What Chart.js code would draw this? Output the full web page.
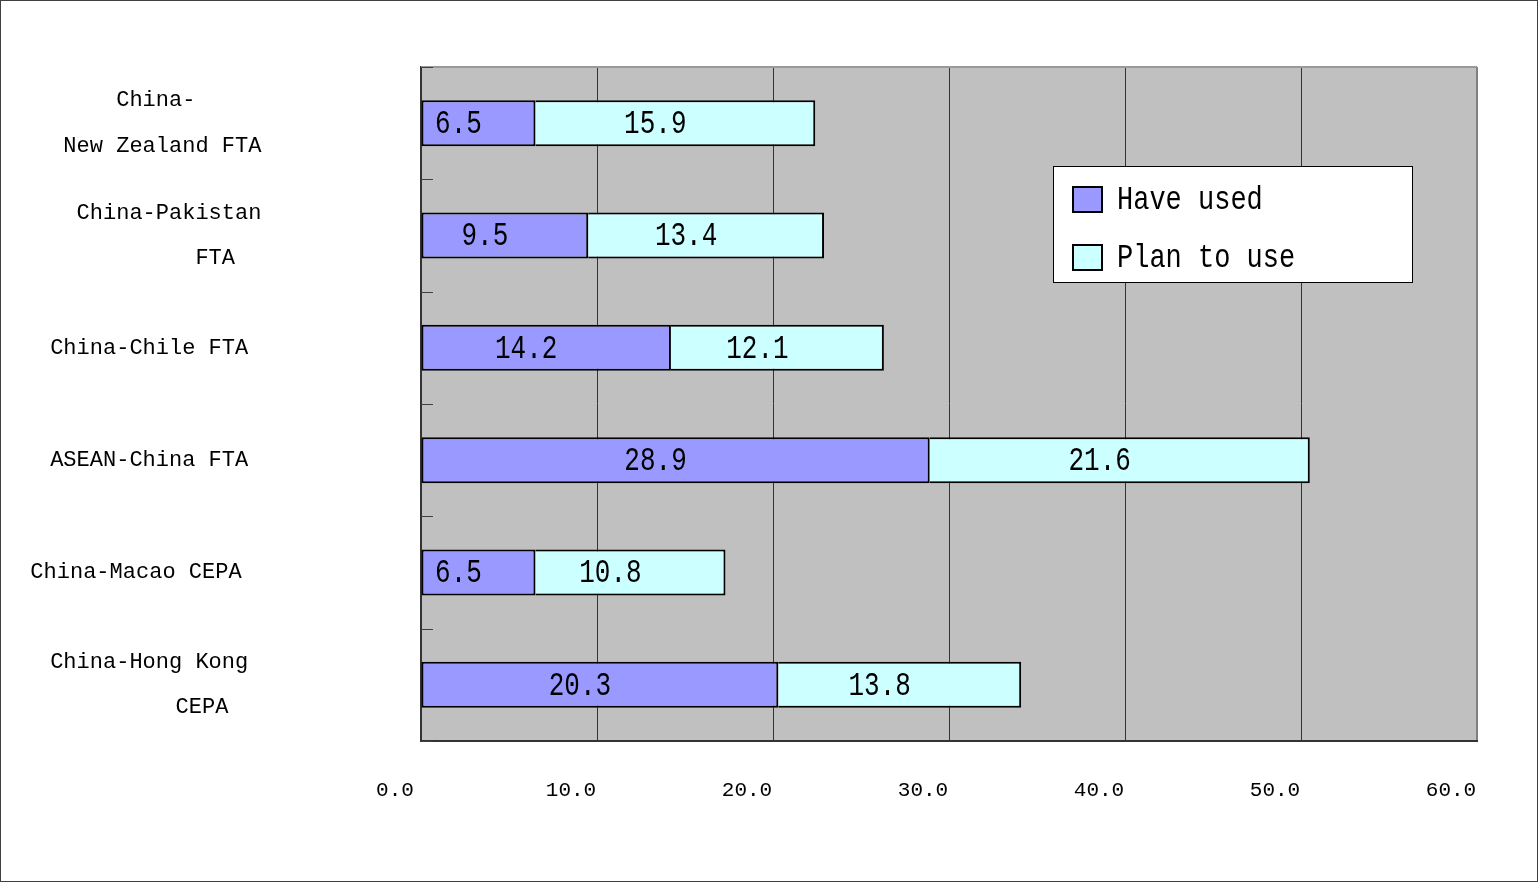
<!DOCTYPE html>
<html>
<head>
<meta charset="utf-8">
<script src="https://cdn.jsdelivr.net/npm/chart.js@4/dist/chart.umd.min.js"></script>
<style>
  html, body { margin: 0; padding: 0; background: #fff; }
  #wrap { width: 1538px; height: 882px; position: relative; }
</style>
</head>
<body>
<div id="wrap"><canvas id="c"></canvas></div>
<script>
// Category names, one entry per line of the wrapped label
const categories = [
  ['China-', 'New Zealand FTA'],
  ['China-Pakistan', 'FTA'],
  ['China-Chile FTA'],
  ['ASEAN-China FTA'],
  ['China-Macao CEPA'],
  ['China-Hong Kong', 'CEPA']
];
// Share of firms (%)
const haveUsed  = [6.5, 9.5, 14.2, 28.9, 6.5, 20.3];
const planToUse = [15.9, 13.4, 12.1, 21.6, 10.8, 13.8];
const seriesNames = ['Have used', 'Plan to use'];
const xTickValues = [0, 10, 20, 30, 40, 50, 60];

const FONT = '"Liberation Mono", "DejaVu Sans Mono", monospace';

// per-line nudges for the wrapped category labels (in character cells;
// positive = pad on the left, negative = pad on the right)
const labelNudge = [[1, 2], [3, 10], [0], [0], [-2], [0, 8]];
function nudged(idx) {
  return categories[idx].map((line, j) => {
    const n = labelNudge[idx][j] || 0;
    return n >= 0 ? ' '.repeat(n) + line : line + ' '.repeat(-n);
  });
}

// text drawn a little taller than the font's natural proportions
function tallText(ctx, text, x, y, stretch) {
  ctx.save();
  ctx.translate(x, y);
  ctx.scale(1, stretch);
  ctx.fillText(text, 0, 0);
  ctx.restore();
}

const framePlugin = {
  id: 'frame',
  beforeDraw(chart) {
    const { ctx, chartArea: a, width, height } = chart;
    ctx.save();
    ctx.fillStyle = '#fff';
    ctx.fillRect(0, 0, width, height);
    ctx.strokeStyle = '#404040';
    ctx.lineWidth = 1;
    ctx.strokeRect(0.5, 0.5, width - 1, height - 1);
    ctx.fillStyle = '#C0C0C0';
    ctx.fillRect(a.left, a.top, a.right - a.left, a.bottom - a.top);
    ctx.restore();
  },
  beforeDatasetsDraw(chart) {
    const { ctx, chartArea: a } = chart;
    const y = chart.scales.y;
    ctx.save();
    // top edge of the plot
    ctx.strokeStyle = '#999';
    ctx.lineWidth = 2;
    ctx.beginPath();
    ctx.moveTo(a.left, a.top);
    ctx.lineTo(a.right, a.top);
    ctx.stroke();
    // short category separators just inside the value axis
    const n = y.ticks.length;
    const step = n > 1 ? y.getPixelForTick(1) - y.getPixelForTick(0) : (a.bottom - a.top);
    ctx.strokeStyle = '#404040';
    ctx.lineWidth = 1;
    for (let i = 0; i <= n; i++) {
      const py = Math.round((i < n ? y.getPixelForTick(i) : y.getPixelForTick(n - 1) + step) - step / 2) + 0.5;
      ctx.beginPath();
      ctx.moveTo(a.left, py);
      ctx.lineTo(a.left + 12, py);
      ctx.stroke();
    }
    ctx.restore();
  },
  afterDatasetsDraw(chart) {
    const { ctx } = chart;
    ctx.save();
    ctx.font = '26px ' + FONT;
    ctx.fillStyle = '#000';
    ctx.textAlign = 'center';
    ctx.textBaseline = 'middle';
    chart.data.datasets.forEach((ds, di) => {
      const meta = chart.getDatasetMeta(di);
      meta.data.forEach((el, i) => {
        const p = el.getProps(['x', 'y', 'base'], true);
        tallText(ctx, ds.data[i].toFixed(1), (p.x + p.base) / 2 - 20, p.y + 1, 1.3);
      });
    });
    ctx.restore();
  },
  afterDraw(chart) {
    // boxed key inside the plot
    const { ctx } = chart;
    const box = { x: 1053.5, y: 166.5, w: 359, h: 116 };
    ctx.save();
    ctx.fillStyle = '#fff';
    ctx.fillRect(box.x, box.y, box.w, box.h);
    ctx.strokeStyle = '#000';
    ctx.lineWidth = 1;
    ctx.strokeRect(box.x, box.y, box.w, box.h);
    ctx.font = '27px ' + FONT;
    ctx.textBaseline = 'middle';
    ctx.textAlign = 'left';
    chart.data.datasets.forEach((ds, i) => {
      const cy = 199 + i * 58;
      ctx.fillStyle = ds.backgroundColor;
      ctx.fillRect(1073, cy - 12, 29, 25);
      ctx.strokeStyle = '#000';
      ctx.lineWidth = 2;
      ctx.strokeRect(1073, cy - 12, 29, 25);
      ctx.fillStyle = '#000';
      tallText(ctx, ds.label, 1117, cy + 1, 1.2);
    });
    ctx.restore();
  }
};

new Chart(document.getElementById('c'), {
  type: 'bar',
  data: {
    labels: categories.map(c => c.join(' ')),
    datasets: [
      {
        label: seriesNames[0],
        data: haveUsed,
        backgroundColor: '#9999FF',
        borderColor: '#000',
        borderWidth: 2,
        borderSkipped: false
      },
      {
        label: seriesNames[1],
        data: planToUse,
        backgroundColor: '#CCFFFF',
        borderColor: '#000',
        borderWidth: { top: 2, bottom: 2, left: 0, right: 2 },
        borderSkipped: false
      }
    ]
  },
  options: {
    indexAxis: 'y',
    responsive: true,
    maintainAspectRatio: false,
    devicePixelRatio: 1,
    animation: false,
    barPercentage: 0.41,
    categoryPercentage: 1.0,
    layout: { padding: { left: 0, right: 61, top: 67, bottom: 0 } },
    plugins: {
      legend: { display: false },
      tooltip: { enabled: false }
    },
    scales: {
      x: {
        stacked: true,
        min: xTickValues[0],
        max: xTickValues[xTickValues.length - 1],
        afterBuildTicks(scale) {
          scale.ticks = xTickValues.map(v => ({ value: v }));
        },
        afterFit(scale) {
          scale.height = 141;
          scale.paddingLeft = 0;
          scale.paddingRight = 0;
        },
        grid: {
          drawTicks: false,
          lineWidth: (c) => (c.tick && c.tick.value === 60 ? 2 : 1),
          color: (c) => (c.tick && c.tick.value === 60 ? '#808080' : '#333')
        },
        border: { display: true, color: '#333', width: 2 },
        ticks: {
          labelOffset: -26,
          padding: 37,
          color: '#000',
          font: { family: FONT, size: 21 },
          callback: (v) => Number(v).toFixed(1)
        }
      },
      y: {
        stacked: true,
        afterFit(scale) {
          scale.width = 421;
          scale.paddingTop = 0;
          scale.paddingBottom = 0;
        },
        grid: { display: false, drawTicks: false },
        border: { display: true, color: '#333', width: 2 },
        ticks: {
          autoSkip: false,
          crossAlign: 'center',
          padding: 153,
          color: '#000',
          font: { family: FONT, size: 22, lineHeight: 2.05 },
          callback: (v, i) => nudged(i)
        }
      }
    }
  },
  plugins: [framePlugin]
});
</script>
</body>
</html>
